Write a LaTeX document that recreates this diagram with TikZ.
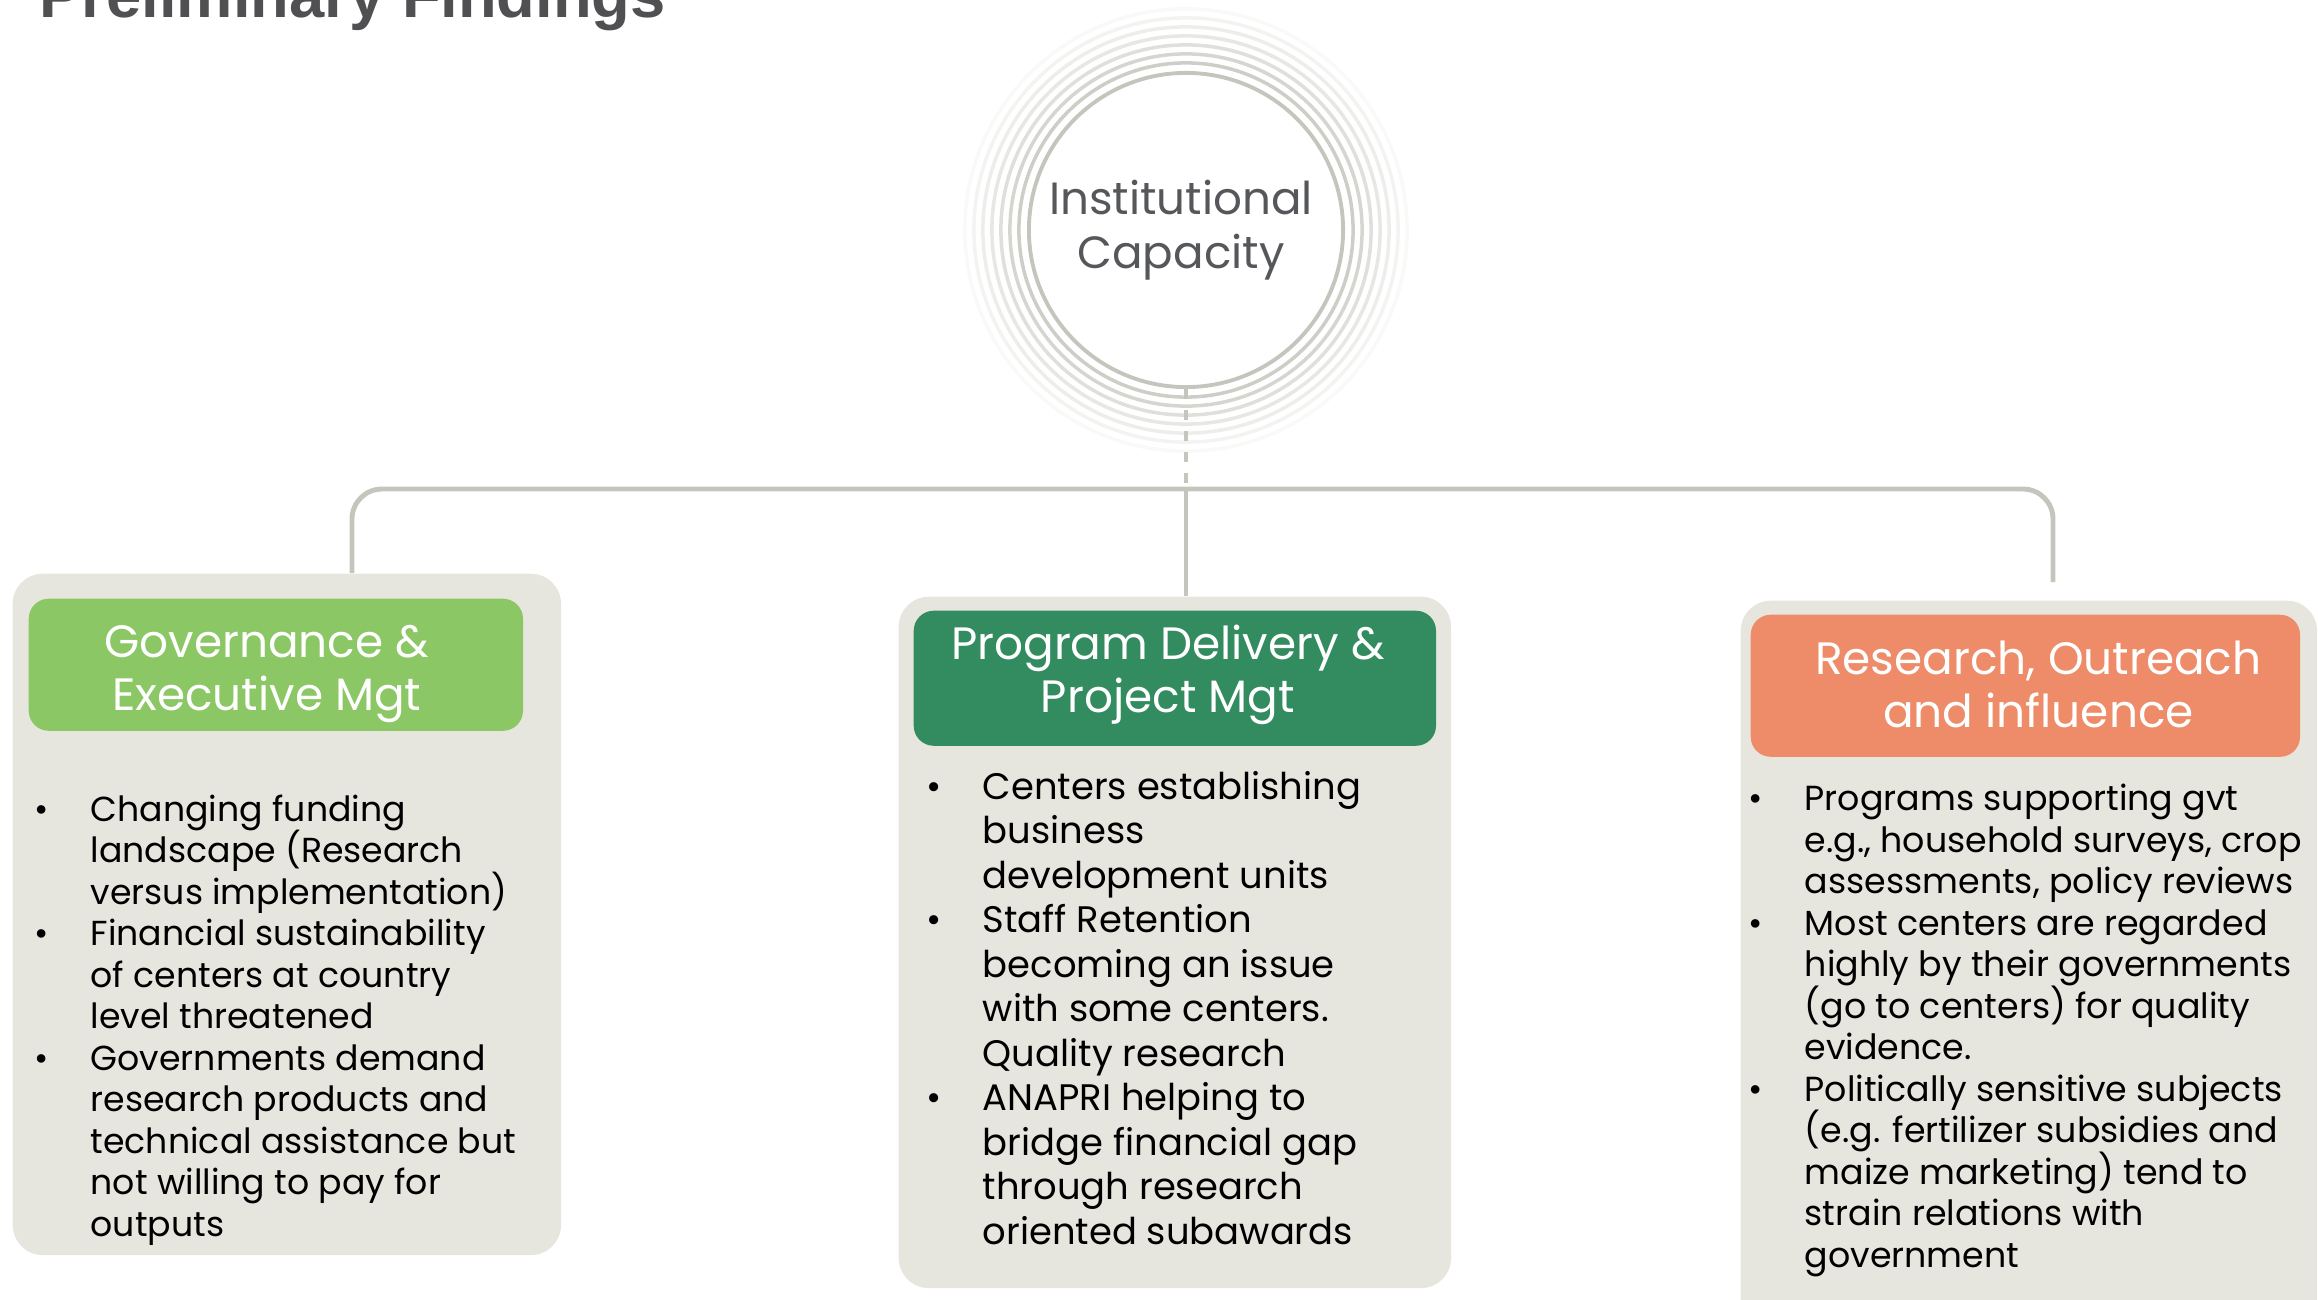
\documentclass[tikz,border=0pt]{standalone}
\usepackage{fontspec}
\setmainfont{Poppins}
\newfontfamily\titlefont{Liberation Sans}
\usepackage{xcolor}
\usetikzlibrary{positioning}
\definecolor{PanelGray}{RGB}{231,230,222}
\definecolor{LeafGreen}{RGB}{139,199,100}
\definecolor{DeepGreen}{RGB}{51,139,96}
\definecolor{Coral}{RGB}{238,140,105}
\definecolor{LinkGray}{RGB}{197,197,190}
\definecolor{TextGray}{RGB}{85,87,90}
\definecolor{TitleGray}{RGB}{80,80,82}
\newcommand{\bul}{\makebox[0.56cm][l]{\textbullet}}
\newcommand{\cont}{\hspace*{0.56cm}}

\begin{document}
\begin{tikzpicture}[
  x=0.01cm, y=-0.01cm,
  panel/.style={fill=PanelGray, rounded corners=0.3cm, anchor=north west, inner sep=0},
  head/.style={rounded corners=0.2cm, inner sep=0},
  headtext/.style={text=white, align=center, inner sep=0,
    font=\fontsize{12.9}{15.1}\selectfont,
    execute at begin node={\lineskiplimit=-20pt\relax}},
  items/.style={inner sep=0, align=left, text=black,
    execute at begin node={\lineskiplimit=-20pt\relax}},
  link/.style={draw=LinkGray, line width=1.4pt},
  ring/.style={draw=LinkGray, line width=1pt}
]
\useasboundingbox (0,0) rectangle (2318,1300);
\clip (0,0) rectangle (2318,1300);

\node[anchor=base west, inner sep=0, text=TitleGray,
  font=\titlefont\bfseries\fontsize{18}{22}\selectfont] (title) at (39,18) {Preliminary Findings};

% centre circle with fading rings
\foreach \r/\o in {1.67/0.85, 1.76/0.7, 1.85/0.55, 1.94/0.42, 2.03/0.3, 2.12/0.2, 2.21/0.1}
  \draw[ring, draw opacity=\o] (1186,230) circle[radius=\r cm];
\node[circle, draw=LinkGray, line width=1.1pt, minimum size=3.14cm, inner sep=0] (core) at (1186,230) {};
\node[text=TextGray, align=center, inner sep=0, xshift=-0.05cm,
  font=\fontsize{12.85}{15.3}\selectfont] (corelabel) at (core) {Institutional\\Capacity};

% panels
\node[panel, minimum width=5.48cm, minimum height=6.81cm] (govbox) at (12,573) {};
\node[panel, minimum width=5.52cm, minimum height=6.91cm] (progbox) at (898,596) {};
\node[panel, minimum width=5.76cm, minimum height=7.4cm] (resbox) at (1740,600) {};

\node[head, fill=LeafGreen, minimum width=4.94cm, minimum height=1.32cm,
  below right=0.25cm and 0.16cm of govbox.north west] (govhead) {};
\node[head, fill=DeepGreen, minimum width=5.22cm, minimum height=1.35cm,
  below right=0.14cm and 0.15cm of progbox.north west] (proghead) {};
\node[head, fill=Coral, minimum width=5.49cm, minimum height=1.42cm,
  below right=0.14cm and 0.1cm of resbox.north west] (reshead) {};
\node[headtext, xshift=-0.09cm, yshift=-0.09cm] (govlabel) at (govhead) {Governance \&\\Executive Mgt};
\node[headtext, xshift=-0.07cm, yshift=0.03cm] (proglabel) at (proghead) {Program Delivery \&\\Project Mgt};
\node[headtext, xshift=0.13cm, yshift=0.015cm] (reslabel) at (reshead) {Research, Outreach\\and influence};

\node[items, font=\fontsize{9.87}{11.8}\selectfont,
  below right=0.625cm and 0.06cm of govhead.south west] (govtext) {%
\bul Changing funding\\
\cont landscape (Research\\
\cont versus implementation)\\
\bul Financial sustainability\\
\cont of centers at country\\
\cont level threatened\\
\bul Governments demand\\
\cont research products and\\
\cont technical assistance but\\
\cont not willing to pay for\\
\cont outputs};

\node[items, font=\fontsize{10.5}{12.65}\selectfont,
  below right=0.24cm and 0.13cm of proghead.south west] (progtext) {%
\bul Centers establishing\\
\cont business\\
\cont development units\\
\bul Staff Retention\\
\cont becoming an issue\\
\cont with some centers.\\
\cont Quality research\\
\bul ANAPRI helping to\\
\cont bridge financial gap\\
\cont through research\\
\cont oriented subawards};

\node[items, font=\fontsize{9.9}{11.8}\selectfont,
  below right=0.26cm and -0.02cm of reshead.south west] (restext) {%
\bul Programs supporting gvt\\
\cont e.g., household surveys, crop\\
\cont assessments, policy reviews\\
\bul Most centers are regarded\\
\cont highly by their governments\\
\cont (go to centers) for quality\\
\cont evidence.\\
\bul Politically sensitive subjects\\
\cont (e.g. fertilizer subsidies and\\
\cont maize marketing) tend to\\
\cont strain relations with\\
\cont government};

% connectors
\coordinate (hub) at (1186,489);
\coordinate (leftdrop) at (352,573);
\coordinate (rightdrop) at (2053,582);
\draw[link, dash pattern=on 0.1cm off 0.11cm] (core.south) -- (hub);
\draw[link] (hub) -- (hub |- progbox.north);
\draw[link, rounded corners=0.3cm] (leftdrop) |- (hub) -| (rightdrop);
\end{tikzpicture}
\end{document}
